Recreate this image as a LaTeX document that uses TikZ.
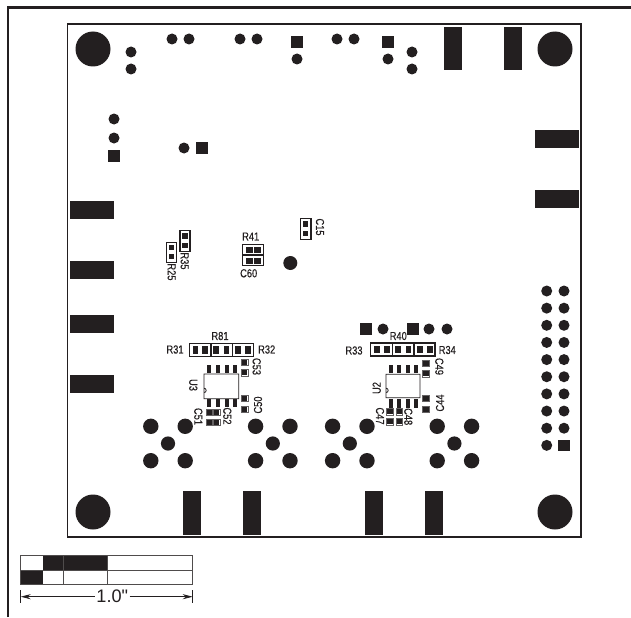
\documentclass[tikz,border=0pt]{standalone}
\usepackage{fontspec}
\setmainfont{Liberation Sans}
\newfontfamily\lab[FakeStretch=0.8,FakeBold=0.25]{Liberation Sans}
\newfontfamily\dimfont{Liberation Sans}
\usetikzlibrary{arrows.meta}
\definecolor{ink}{HTML}{231F20}
\tikzset{
  hole/.style={fill=ink,draw=none},
  lbl/.style={inner sep=0pt,text=ink,font=\lab\fontsize{8.7pt}{9pt}\selectfont},
  lbd/.style={lbl,rotate=-90},
  lbu/.style={lbl,rotate=90},
  outl/.style={draw=ink,line width=0.95pt,fill=none},
  thin outl/.style={draw=ink!70,line width=0.45pt,fill=none}
}
\newcommand{\bigh}[2]{\fill[hole] (#1,#2) circle (17.5);}
\newcommand{\smh}[2]{\fill[hole] (#1,#2) circle (5.5);}
\newcommand{\sqp}[2]{\fill[hole] (#1-5.8,#2-5.8) rectangle (#1+5.8,#2+5.8);}
\newcommand{\pad}[4]{\fill[hole] (#1-#3/2,#2-#4/2) rectangle (#1+#3/2,#2+#4/2);}
\newcommand{\rr}[4]{\fill[hole] (#1,#2) rectangle (#3,#4);}
\newcommand{\five}[2]{%
  \fill[hole] (#1-17.2,#2-17.2) circle (7.7);
  \fill[hole] (#1+17.2,#2-17.2) circle (7.7);
  \fill[hole] (#1-17.2,#2+17.2) circle (7.7);
  \fill[hole] (#1+17.2,#2+17.2) circle (7.7);
  \fill[hole] (#1,#2) circle (7.1);}
\newcommand{\cappad}[2]{\draw[thin outl] (#1-3.3,#2-3.1) rectangle (#1+3.3,#2+3.1);\fill[hole] (#1-2.7,#2-2.5) rectangle (#1+2.7,#2+2.5);}
\begin{document}
\begin{tikzpicture}[x=0.75pt,y=-0.75pt]
\useasboundingbox (0,0) rectangle (631,617);
\fill[white] (0,0) rectangle (631,617);
% outer frame
\draw[ink,line width=1.6pt] (8,617) -- (8,7.5) -- (631,7.5);
% board
\draw[ink,line width=1.1pt] (67.5,24) rectangle (581,537);
% mounting holes
\bigh{93}{49}\bigh{555}{49}\bigh{93}{512}\bigh{555}{512}
% small through holes
\smh{131}{52}\smh{131}{69}
\smh{172}{39}\smh{189}{39}
\smh{114}{119}\smh{114}{138}\sqp{114}{156}
\smh{184}{148}\sqp{202}{148}
\smh{240}{39}\smh{257}{39}
\sqp{297}{42}\smh{297}{59}
\smh{337}{39}\smh{354}{39}
\sqp{388}{42}\smh{388}{59}
\smh{412}{52}\smh{412}{69}
\sqp{366}{329}\smh{383}{329}\sqp{412.7}{329}\smh{429}{329}\smh{447}{329}
\fill[hole] (290.3,263) circle (7);
% header
\foreach \k in {0,...,9}{\smh{546.7}{291+\k*17.15}}
\foreach \k in {0,...,8}{\smh{564}{291+\k*17.15}}
\sqp{564}{445.3}
% edge pads
\rr{444}{27}{462}{70}\rr{504}{27}{522}{70}
\rr{535}{130}{579}{147.7}\rr{535}{190}{579}{207.7}
\rr{70}{201}{114}{218.7}\rr{70}{261}{114}{278.7}\rr{70}{315}{114}{332.7}\rr{70}{375}{114}{392.7}
\rr{183.3}{491.3}{201.3}{534.7}\rr{243.3}{491.3}{261.3}{534.7}\rr{365}{491.3}{383}{534.7}\rr{425}{491.3}{443}{534.7}
% five hole connectors
\five{168}{443.5}
\five{272.8}{443.5}
\five{349.8}{443.5}
\five{454.4}{443.5}
% C15
\draw[outl] (300.3,218.3) rectangle (311,239.3);
\pad{305.5}{224}{5.5}{5.5}\pad{305.5}{233.5}{5.5}{5.5}
\node[lbd] (c15) at (320,227) {C15};
% R35
\draw[outl] (180,230.7) rectangle (190,251.7);
\pad{185}{236}{5.5}{5.5}\pad{185}{245.5}{5.5}{5.5}
\node[lbd] (r35) at (184.7,261) {R35};
% R25
\draw[outl] (166.7,242.3) rectangle (176.7,262.3);
\pad{171.7}{247.7}{5.5}{5.5}\pad{171.7}{256.7}{5.5}{5.5}
\node[lbd] (r25) at (171.7,272) {R25};
% R41 / C60
\node[lbl] (r41) at (250.7,236.5) {R41};
\draw[outl] (242.7,244.3) rectangle (263.3,265.7);
\draw[outl] (242.7,255) -- (263.3,255);
\pad{249}{250}{7}{5.5}\pad{257.7}{250}{7}{5.5}\pad{249}{261}{7}{5.5}\pad{257.7}{261}{7}{5.5}
\node[lbl] (c60) at (248.7,273.3) {C60};
% --- U3 group
\draw[outl] (189.3,343.3) rectangle (253.3,356.7);
\draw[outl] (211,343.3) -- (211,356.7) (232.7,343.3) -- (232.7,356.7);
\foreach \x in {195.5,205.3,216,226.5,238,248}{\pad{\x}{350}{5.8}{7.2}}
\node[lbl] (r81) at (220,336) {R81};
\node[lbl] (r31) at (175,349.5) {R31};
\node[lbl] (r32) at (266.7,349.5) {R32};
\foreach \x in {209.3,217.7,226.7,235}{\rr{\x-2.1}{365}{\x+2.1}{372.7}\rr{\x-2.1}{399.3}{\x+2.1}{407.3}}
\draw[ink,line width=0.6pt] (204,374) -- (238.7,374) -- (238.7,398.7) -- (204,398.7) -- (204,388.2) arc (-90:90:2.2) -- cycle;
\cappad{244.7}{362.3}\cappad{244.7}{372.7}\cappad{244.7}{398.3}\cappad{244.7}{409}
\cappad{209.3}{412.3}\cappad{216.7}{412.3}\cappad{209.3}{422}\cappad{216.7}{422}
\node[lbd] (c53) at (256.7,366.5) {C53};
\node[lbd] (u3) at (193.3,385) {U3};
\node[lbu] (c50) at (258,405) {C50};
\node[lbd] (c52) at (227.3,416) {C52};
\node[lbd] (c51) at (198.3,416.5) {C51};
% --- U2 group
\draw[outl] (370.7,343) rectangle (435,356);
\draw[outl] (392.7,343) -- (392.7,356) (414,343) -- (414,356);
\foreach \x in {376.7,386.7,398,408.5,420,430}{\pad{\x}{349.5}{5.8}{7.2}}
\node[lbl] (r40) at (398.3,336) {R40};
\node[lbl] (r33) at (354,350.5) {R33};
\node[lbl] (r34) at (447.3,350) {R34};
\foreach \x in {391,399,407.7,415.7}{\rr{\x-2.1}{365}{\x+2.1}{372.5}\rr{\x-2.1}{399}{\x+2.1}{408}}
\draw[ink,line width=0.6pt] (386,374.3) -- (420,374.3) -- (420,397.7) -- (386,397.7) -- (386,388.2) arc (-90:90:2.2) -- cycle;
\cappad{426}{363.3}\cappad{426}{373.7}\cappad{426}{398.3}\cappad{426}{409.3}
\cappad{390}{411.7}\cappad{399.3}{411.7}\cappad{390}{421.7}\cappad{399.3}{421.7}
\node[lbd] (c49) at (439.3,366.5) {C49};
\node[lbu] (u2) at (376.7,388) {U2};
\node[lbu] (c44) at (440,403) {C44};
\node[lbd] (c48) at (408.3,416.7) {C48};
\node[lbd] (c47) at (380,416) {C47};
% scale bar
\fill[ink] (43.3,555.7) rectangle (107,570);
\fill[ink] (20.7,570) rectangle (43.3,584.3);
\draw[ink!80,line width=0.6pt] (20.7,555.7) rectangle (192.7,584.3);
\draw[ink!80,line width=0.6pt] (20.7,570) -- (192.7,570);
\draw[ink!80,line width=0.6pt] (63.7,555.7) -- (63.7,584.3);
\draw[ink!80,line width=0.6pt] (107,555.7) -- (107,584.3);
\node[inner sep=0pt,text=ink,font=\dimfont\fontsize{13.6pt}{14pt}\selectfont] (dim) at (112.3,596.7) {1.0"};
\coordinate (dl) at (20.7,596.7);
\coordinate (dr) at (192.7,596.7);
\draw[ink,line width=0.5pt] (20.7,590) -- (20.7,603.3) (192.7,590) -- (192.7,603.3);
\draw[ink,line width=0.6pt,-{Stealth[length=7.5pt,width=3.8pt]}] (dim.west) ++(-1pt,0) -- (dl);
\draw[ink,line width=0.6pt,-{Stealth[length=7.5pt,width=3.8pt]}] (dim.east) ++(1pt,0) -- (dr);
\end{tikzpicture}
\end{document}
